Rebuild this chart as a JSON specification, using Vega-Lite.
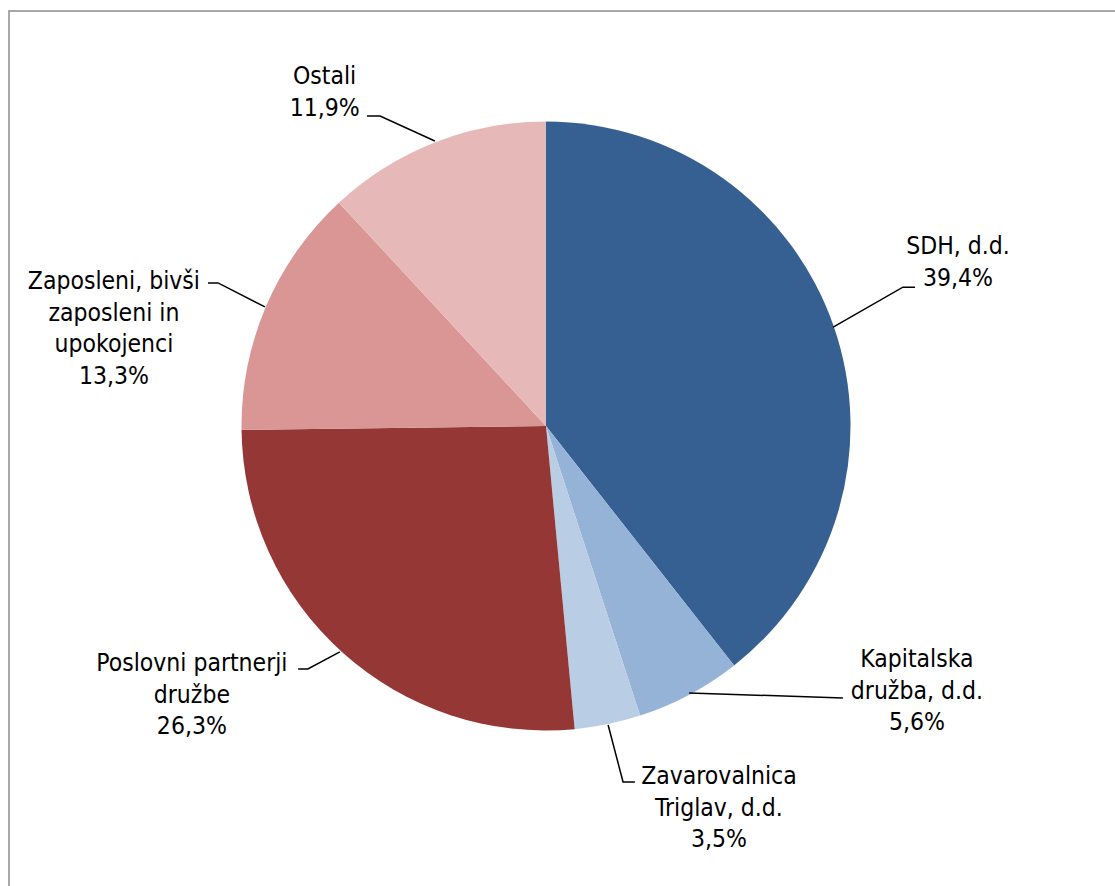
{
  "$schema": "https://vega.github.io/schema/vega-lite/v6.json",
  "width": 1115,
  "height": 886,
  "padding": 0,
  "autosize": {"type": "none"},
  "background": "white",
  "config": {"view": {"stroke": null}},
  "datasets": {
    "shares": [
      {"holder": "SDH, d.d.", "share": 39.4, "order": 1},
      {"holder": "Kapitalska družba, d.d.", "share": 5.6, "order": 2},
      {"holder": "Zavarovalnica Triglav, d.d.", "share": 3.5, "order": 3},
      {"holder": "Poslovni partnerji družbe", "share": 26.3, "order": 4},
      {"holder": "Zaposleni, bivši zaposleni in upokojenci", "share": 13.3, "order": 5},
      {"holder": "Ostali", "share": 11.9, "order": 6}
    ],
    "labels": [
      {"holder": "SDH, d.d.", "label": "SDH, d.d.\n39,4%", "lx": 1.353, "ly": 0.5862},
      {"holder": "Kapitalska družba, d.d.", "label": "Kapitalska\ndružba, d.d.\n5,6%", "lx": 1.218, "ly": -0.7685},
      {"holder": "Zavarovalnica Triglav, d.d.", "label": "Zavarovalnica\nTriglav, d.d.\n3,5%", "lx": 0.568, "ly": -1.1527},
      {"holder": "Poslovni partnerji družbe", "label": "Poslovni partnerji\ndružbe\n26,3%", "lx": -1.163, "ly": -0.7816},
      {"holder": "Zaposleni, bivši zaposleni in upokojenci", "label": "Zaposleni, bivši\nzaposleni in\nupokojenci\n13,3%", "lx": -1.419, "ly": 0.4729},
      {"holder": "Ostali", "label": "Ostali\n11,9%", "lx": -0.727, "ly": 1.1461}
    ],
    "leaders": [
      {"holder": "Ostali", "pt": 1, "lx": -0.588, "ly": 1.018},
      {"holder": "Ostali", "pt": 2, "lx": -0.545, "ly": 1.018},
      {"holder": "Ostali", "pt": 3, "lx": -0.365, "ly": 0.936},
      {"holder": "SDH, d.d.", "pt": 1, "lx": 0.943, "ly": 0.325},
      {"holder": "SDH, d.d.", "pt": 2, "lx": 1.172, "ly": 0.456},
      {"holder": "SDH, d.d.", "pt": 3, "lx": 1.212, "ly": 0.456},
      {"holder": "Kapitalska družba, d.d.", "pt": 1, "lx": 0.47, "ly": -0.877},
      {"holder": "Kapitalska družba, d.d.", "pt": 2, "lx": 0.975, "ly": -0.893},
      {"holder": "Zavarovalnica Triglav, d.d.", "pt": 1, "lx": 0.204, "ly": -0.982},
      {"holder": "Zavarovalnica Triglav, d.d.", "pt": 2, "lx": 0.253, "ly": -1.169},
      {"holder": "Zavarovalnica Triglav, d.d.", "pt": 3, "lx": 0.292, "ly": -1.169},
      {"holder": "Poslovni partnerji družbe", "pt": 1, "lx": -0.677, "ly": -0.742},
      {"holder": "Poslovni partnerji družbe", "pt": 2, "lx": -0.782, "ly": -0.798},
      {"holder": "Poslovni partnerji družbe", "pt": 3, "lx": -0.814, "ly": -0.798},
      {"holder": "Zaposleni, bivši zaposleni in upokojenci", "pt": 1, "lx": -0.923, "ly": 0.391},
      {"holder": "Zaposleni, bivši zaposleni in upokojenci", "pt": 2, "lx": -1.077, "ly": 0.47},
      {"holder": "Zaposleni, bivši zaposleni in upokojenci", "pt": 3, "lx": -1.11, "ly": 0.47}
    ],
    "frame": [
      {"x": -1.7635, "x2": 2.2, "y": 1.3629, "y2": -2.0}
    ]
  },
  "layer": [
    {
      "data": {"name": "frame"},
      "mark": {"type": "rect", "fill": null, "stroke": "#8c8c8c", "strokeWidth": 1.5},
      "encoding": {
        "x": {"field": "x", "type": "quantitative", "scale": {"domain": [-1.7931, 1.8686], "nice": false, "zero": false}, "axis": null},
        "x2": {"field": "x2"},
        "y": {"field": "y", "type": "quantitative", "scale": {"domain": [-1.5107, 1.399], "nice": false, "zero": false}, "axis": null},
        "y2": {"field": "y2"}
      }
    },
    {
      "data": {"name": "shares"},
      "mark": {"type": "arc", "outerRadius": 304.5},
      "encoding": {
        "theta": {"field": "share", "type": "quantitative", "stack": true},
        "order": {"field": "order", "type": "quantitative"},
        "color": {
          "field": "holder",
          "type": "nominal",
          "scale": {
            "domain": ["SDH, d.d.", "Kapitalska družba, d.d.", "Zavarovalnica Triglav, d.d.", "Poslovni partnerji družbe", "Zaposleni, bivši zaposleni in upokojenci", "Ostali"],
            "range": ["#376092", "#95b3d7", "#b9cde5", "#953735", "#d99694", "#e6b9b8"]
          },
          "legend": null
        },
        "x": {"datum": 0, "type": "quantitative"},
        "y": {"datum": 0, "type": "quantitative"}
      }
    },
    {
      "data": {"name": "leaders"},
      "mark": {"type": "line", "color": "#000000", "strokeWidth": 1.5},
      "encoding": {
        "x": {"field": "lx", "type": "quantitative"},
        "y": {"field": "ly", "type": "quantitative"},
        "detail": {"field": "holder"},
        "order": {"field": "pt", "type": "quantitative"}
      }
    },
    {
      "data": {"name": "labels"},
      "mark": {"type": "text", "font": "DejaVu Sans Condensed, DejaVu Sans", "fontSize": 24.5, "lineBreak": "\n", "lineHeight": 31.7, "align": "center", "baseline": "middle", "color": "#000000"},
      "encoding": {
        "x": {"field": "lx", "type": "quantitative"},
        "y": {"field": "ly", "type": "quantitative"},
        "text": {"field": "label", "type": "nominal"}
      }
    }
  ]
}
